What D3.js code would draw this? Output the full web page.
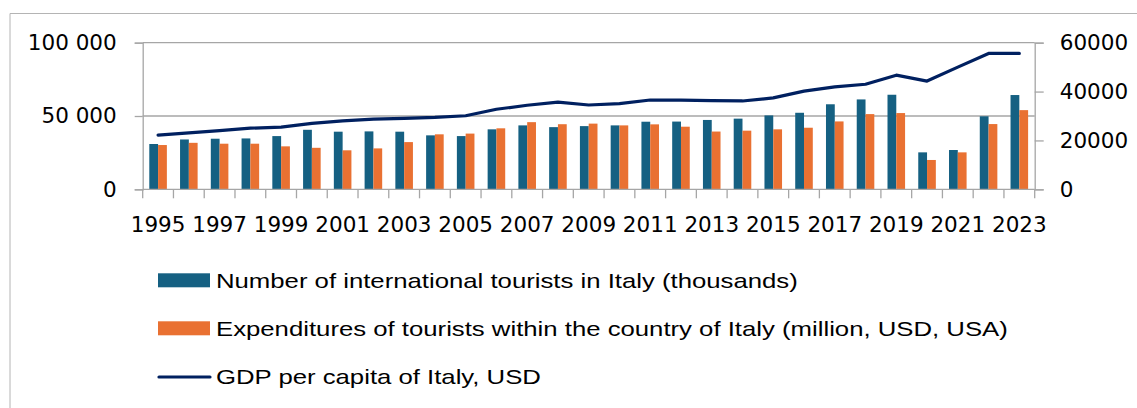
<!DOCTYPE html>
<html>
<head>
<meta charset="utf-8">
<script src="https://cdn.jsdelivr.net/npm/d3@7"></script>
<style>
  html, body { margin: 0; padding: 0; background: #fff; }
  svg { display: block; }
  .tick text { fill: #000; }
</style>
</head>
<body>
<svg id="chart" width="1137" height="408"></svg>
<script>
// Italy: international tourism and GDP per capita, 1995–2023
const years = d3.range(1995, 2024).map(String);

// Number of international tourists in Italy (thousands)
const tourists = [30900, 34000, 34500, 34700, 36300, 40600, 39300, 39500, 39300, 36800,
                  36300, 40900, 43600, 42400, 43100, 43600, 46100, 46200, 47300, 48200,
                  50400, 52200, 58000, 61300, 64500, 25200, 26800, 49800, 64300];

// Expenditures of tourists within Italy (million USD)
const expenditures = [30200, 31700, 31100, 31100, 29300, 28300, 26600, 27900, 32200, 37500,
                      38000, 41600, 45800, 44400, 44800, 43600, 44300, 42700, 39400, 40000,
                      40900, 42000, 46300, 51300, 52000, 20000, 25200, 44500, 54000];

// GDP per capita of Italy, USD (right axis)
const gdp = [22200, 23100, 24000, 25000, 25450, 27000, 28000, 28700, 29000, 29400,
             30100, 32750, 34400, 35700, 34500, 35100, 36550, 36500, 36300, 36150,
             37400, 40200, 41900, 43000, 46700, 44300, 50000, 55600, 55600];

const leftTicks = [0, 50000, 100000];
const rightTicks = [0, 20000, 40000, 60000];

const seriesNames = [
  "Number of international tourists in Italy (thousands)",
  "Expenditures of tourists within the country of Italy (million, USD, USA)",
  "GDP per capita of Italy, USD"
];
const colors = ["#156082", "#E97132", "#002060"];

const svg = d3.select("#chart");
const W = 1137, H = 408;
const plot = { left: 142.7, right: 1034.7, top: 42.7, bottom: 189.3 };
const axisFont = "'DejaVu Sans', 'Liberation Sans', sans-serif";
const legendFont = "'Liberation Sans', Arial, sans-serif";
const gridColor = "#a6a6a6";

// outer frame (top and left edges visible)
svg.append("path")
  .attr("d", `M10,${H} V13.5 H${W}`)
  .attr("fill", "none")
  .attr("stroke", "#b4b4b4")
  .attr("stroke-width", 1);

const x = d3.scaleBand().domain(years).range([plot.left, plot.right]).padding(0);
const xSub = d3.scaleBand().domain([0, 1]).range([0, x.bandwidth()])
  .paddingInner(0).paddingOuter(0.75);
const yL = d3.scaleLinear().domain([0, 100000]).range([plot.bottom, plot.top]);
const yR = d3.scaleLinear().domain([0, 60000]).range([plot.bottom, plot.top]);

const spaceLocale = d3.formatLocale({ decimal: ",", thousands: "\u00a0", grouping: [3], currency: ["", ""] });

// horizontal gridlines
svg.append("g")
  .selectAll("line")
  .data(leftTicks.filter(d => d > 0))
  .join("line")
  .attr("x1", plot.left).attr("x2", plot.right)
  .attr("y1", d => yL(d)).attr("y2", d => yL(d))
  .attr("stroke", gridColor).attr("stroke-width", 1.3);

// bars
const barGroups = svg.append("g")
  .selectAll("g")
  .data(years)
  .join("g")
  .attr("transform", d => `translate(${x(d)},0)`);

[tourists, expenditures].forEach((vals, si) => {
  barGroups.append("rect")
    .attr("x", xSub(si))
    .attr("width", xSub.bandwidth())
    .attr("y", (d, i) => yL(vals[i]))
    .attr("height", (d, i) => yL(0) - yL(vals[i]))
    .attr("fill", colors[si]);
});

function styleAxis(g) {
  g.select(".domain").attr("stroke", gridColor).attr("stroke-width", 1.3);
  g.selectAll(".tick line").attr("stroke", gridColor).attr("stroke-width", 1.3);
  g.selectAll(".tick text").style("font-family", axisFont).style("font-size", "21.5px");
}

// left axis
svg.append("g")
  .attr("transform", `translate(${plot.left},0)`)
  .call(d3.axisLeft(yL).tickValues(leftTicks).tickSize(8).tickPadding(18)
    .tickFormat(spaceLocale.format(",")))
  .call(styleAxis);

// right axis
svg.append("g")
  .attr("transform", `translate(${plot.right},0)`)
  .call(d3.axisRight(yR).tickValues(rightTicks).tickSize(9).tickPadding(16)
    .tickFormat(d3.format("d")))
  .call(styleAxis);

// bottom axis: labels every other year, ticks between categories
const gB = svg.append("g")
  .attr("transform", `translate(0,${plot.bottom})`)
  .call(d3.axisBottom(x).tickSize(0).tickPadding(27)
    .tickFormat((d, i) => (i % 2 === 0 ? d : "")))
  .call(styleAxis);
gB.select(".domain").remove();

svg.append("g")
  .selectAll("line")
  .data(years.map(d => x(d)).concat([x.range()[1]]))
  .join("line")
  .attr("x1", d => d).attr("x2", d => d)
  .attr("y1", plot.bottom).attr("y2", plot.bottom + 9)
  .attr("stroke", gridColor).attr("stroke-width", 1.3);

svg.append("line")
  .attr("x1", plot.left).attr("x2", plot.right)
  .attr("y1", plot.bottom).attr("y2", plot.bottom)
  .attr("stroke", gridColor).attr("stroke-width", 1.3);

// GDP line
const line = d3.line()
  .x((d, i) => x(years[i]) + x.bandwidth() / 2)
  .y(d => yR(d));
svg.append("path")
  .datum(gdp)
  .attr("d", line)
  .attr("fill", "none")
  .attr("stroke", colors[2])
  .attr("stroke-width", 3.2)
  .attr("stroke-linejoin", "round")
  .attr("stroke-linecap", "round");

// legend
const legendRows = [280.3, 328.3, 377];
const legend = svg.append("g");
seriesNames.forEach((name, i) => {
  const cy = legendRows[i];
  if (i < 2) {
    legend.append("rect")
      .attr("x", 158).attr("y", cy - 7)
      .attr("width", 52).attr("height", 14)
      .attr("fill", colors[i]);
  } else {
    legend.append("line")
      .attr("x1", 159).attr("x2", 210)
      .attr("y1", cy).attr("y2", cy)
      .attr("stroke", colors[i]).attr("stroke-width", 3.2)
      .attr("stroke-linecap", "round");
  }
  legend.append("text")
    .attr("transform", `translate(216,${cy + 7.2}) scale(1.255,1)`)
    .style("font-family", legendFont)
    .style("font-size", "20.5px")
    .attr("fill", "#000")
    .text(name);
});
</script>
</body>
</html>
